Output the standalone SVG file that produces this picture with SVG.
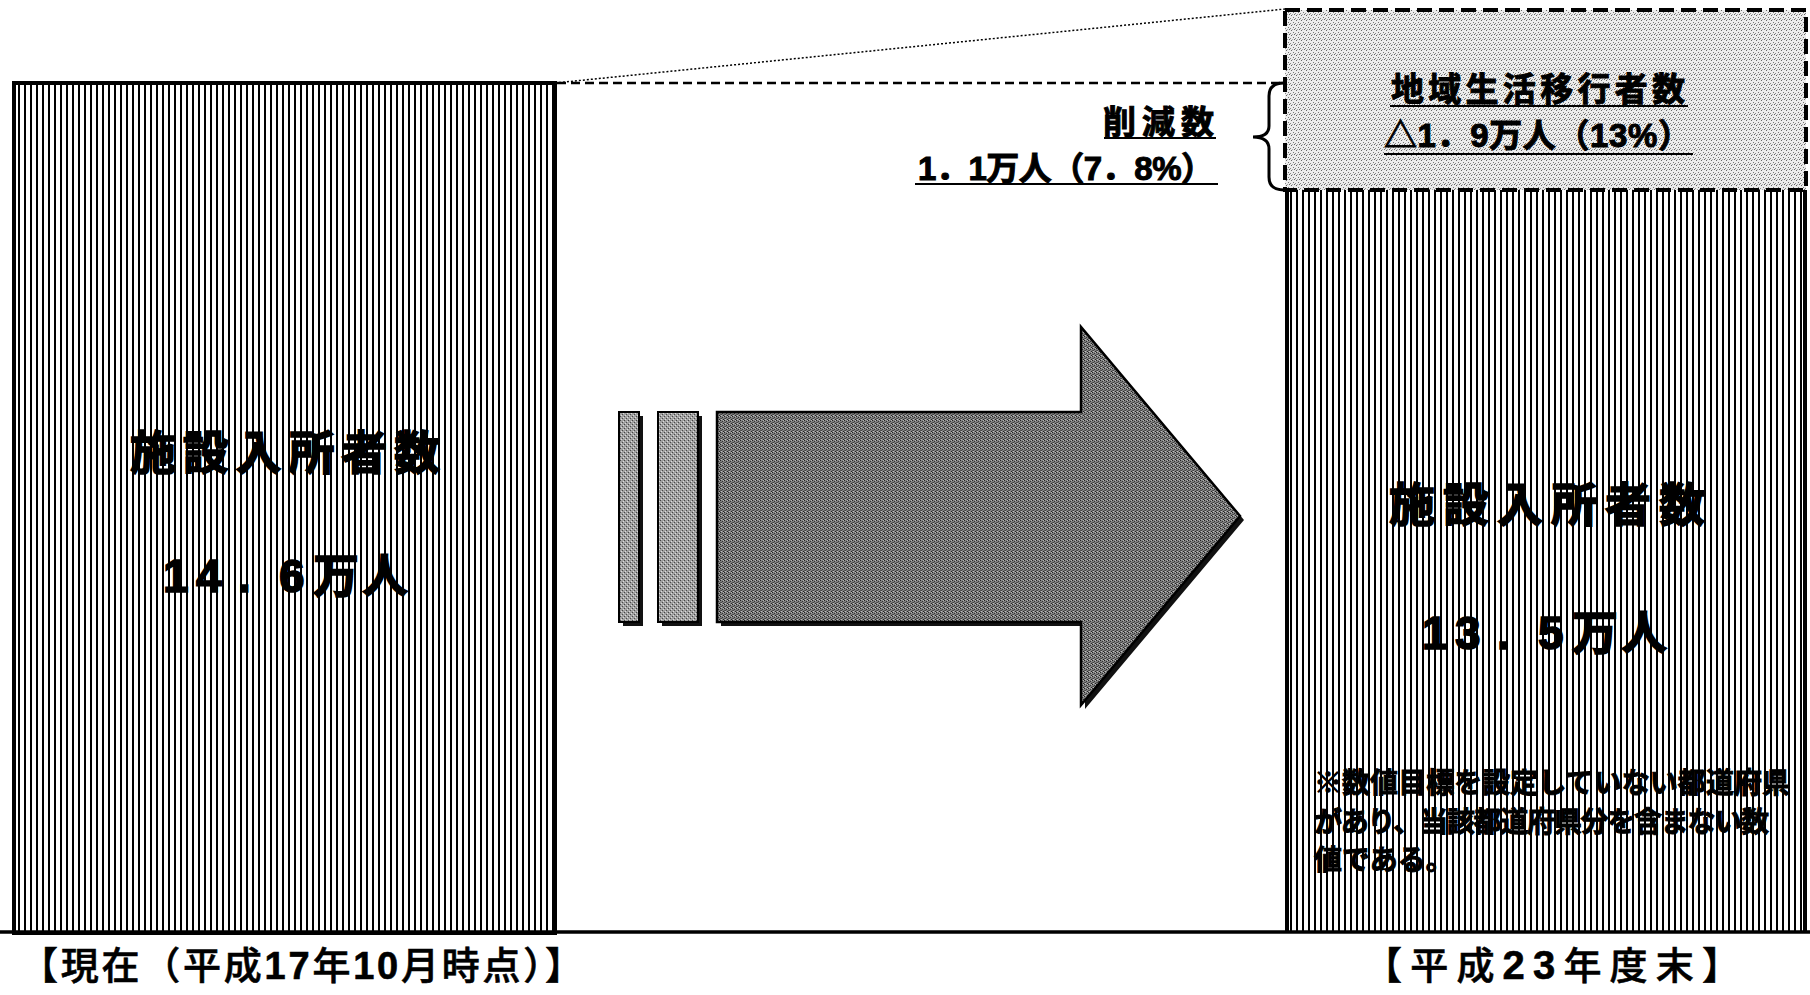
<svg xmlns="http://www.w3.org/2000/svg" width="1810" height="995" viewBox="0 0 1810 995">
<defs>
<pattern id="stripes" patternUnits="userSpaceOnUse" x="0" y="0" width="6" height="10">
<rect width="6" height="10" fill="#ffffff"/>
<rect x="0" y="0" width="2" height="10" fill="#000000"/>
</pattern>
<pattern id="lightdots" patternUnits="userSpaceOnUse" width="5" height="5">
<rect width="5" height="5" fill="#ececec"/>
<rect x="1" y="0" width="1" height="1" fill="#666"/>
<rect x="3" y="2" width="1" height="1" fill="#777"/>
<rect x="0" y="3" width="1" height="1" fill="#888"/>
<rect x="4" y="4" width="1" height="1" fill="#666"/>
<rect x="2" y="4" width="1" height="1" fill="#aaa"/>
</pattern>
<pattern id="darknoise" patternUnits="userSpaceOnUse" width="4" height="4">
<rect width="4" height="4" fill="#808080"/>
<rect x="0" y="0" width="1" height="1" fill="#222"/>
<rect x="2" y="1" width="1" height="1" fill="#333"/>
<rect x="1" y="2" width="1" height="1" fill="#444"/>
<rect x="3" y="3" width="1" height="1" fill="#222"/>
<rect x="3" y="0" width="1" height="1" fill="#b4b4b4"/>
<rect x="1" y="3" width="1" height="1" fill="#bebebe"/>
<rect x="0" y="2" width="1" height="1" fill="#555"/>
</pattern>
<pattern id="midnoise" patternUnits="userSpaceOnUse" width="4" height="4">
<rect width="4" height="4" fill="#a0a0a0"/>
<rect x="0" y="0" width="1" height="1" fill="#444"/>
<rect x="2" y="2" width="1" height="1" fill="#4a4a4a"/>
<rect x="3" y="1" width="1" height="1" fill="#ddd"/>
<rect x="1" y="3" width="1" height="1" fill="#ddd"/>
</pattern>
</defs>
<style>
.jpn{font-family:"Noto Sans CJK JP","Liberation Sans",sans-serif;font-weight:bold;fill:#000;stroke:#000;stroke-width:1}
.big{stroke-width:1.6}
.dig{font-family:"Liberation Sans","Noto Sans CJK JP",sans-serif;font-weight:bold}
.lbl{font-family:"Noto Sans CJK JP","Liberation Sans",sans-serif;font-weight:500;fill:#000;stroke:#000;stroke-width:0.6}
.ul{stroke:#000;stroke-width:2.2}
.edge{fill:none;stroke:#000}
</style>
<rect width="1810" height="995" fill="#ffffff"/>

<g id="connectors">
<line x1="555" y1="83" x2="1285" y2="9" stroke="#000" stroke-width="1.5" stroke-dasharray="2 2"/>
<line x1="557" y1="83" x2="1283" y2="83" stroke="#000" stroke-width="2.5" stroke-dasharray="9 5"/>
<path d="M1284,83 Q1269,83 1269,96 L1269,126 Q1269,137 1253,137 Q1269,137 1269,149 L1269,177 Q1269,190 1284,190" fill="none" stroke="#000" stroke-width="3"/>
</g>

<g id="left-bar">
<rect x="14" y="83" width="541" height="850" fill="url(#stripes)" stroke="#000" stroke-width="4"/>
<text class="jpn big" x="285" y="469" font-size="46" text-anchor="middle" textLength="310">施設入所者数</text>
<text class="jpn big" y="592" font-size="46"><tspan class="dig" x="163">1</tspan><tspan class="dig" x="196">4</tspan><tspan class="dig" x="238">.</tspan><tspan class="dig" x="279">6</tspan><tspan x="313">万</tspan><tspan x="362">人</tspan></text>
</g>

<g id="right-bar">
<rect x="1287" y="190" width="519" height="743" fill="url(#stripes)"/>
<path d="M1287,190 L1287,933 M1805,190 L1805,933" class="edge" stroke-width="4"/>
<text class="jpn big" x="1547" y="521" font-size="46" text-anchor="middle" textLength="316">施設入所者数</text>
<text class="jpn big" y="649" font-size="46"><tspan class="dig" x="1422">1</tspan><tspan class="dig" x="1455">3</tspan><tspan class="dig" x="1497">.</tspan><tspan class="dig" x="1538">5</tspan><tspan x="1572">万</tspan><tspan x="1621">人</tspan></text>
<text class="jpn" x="1314" y="793" font-size="28" textLength="476">※数値目標を設定していない都道府県</text>
<text class="jpn" x="1314" y="832" font-size="28" textLength="455">があり、当該都道府県分を含まない数</text>
<text class="jpn" x="1314" y="870" font-size="28">値である。</text>
</g>

<g id="transition-box">
<rect x="1285" y="10" width="521" height="180" fill="url(#lightdots)" stroke="#000" stroke-width="4" stroke-dasharray="15 7"/>
<text class="jpn" x="1391" y="101" font-size="33" textLength="294">地域生活移行者数</text>
<line class="ul" x1="1390" y1="106" x2="1688" y2="106"/>
<text class="jpn" x="1384" y="147" font-size="33" textLength="307">△<tspan class="dig">1</tspan>．<tspan class="dig">9</tspan>万人（<tspan class="dig">13%</tspan>）</text>
<line class="ul" x1="1384" y1="154" x2="1693" y2="154"/>
</g>

<g id="reduction-label">
<text class="jpn" x="1214" y="134" font-size="33" text-anchor="end" textLength="111">削減数</text>
<line class="ul" x1="1104" y1="138" x2="1216" y2="138"/>
<text class="jpn" x="1214" y="180" font-size="33" text-anchor="end" textLength="296"><tspan class="dig">1</tspan>．<tspan class="dig">1</tspan>万人（<tspan class="dig">7</tspan>．<tspan class="dig">8%</tspan>）</text>
<line class="ul" x1="915" y1="184" x2="1218" y2="184"/>
</g>

<g id="arrow">
<rect x="623" y="416" width="20" height="210" fill="#111"/>
<rect x="662" y="416" width="40" height="210" fill="#111"/>
<polygon points="721,416 1085,416 1085,331 1244,520 1085,709 1085,626 721,626" fill="#111"/>
<rect x="619" y="412" width="20" height="210" fill="url(#midnoise)" stroke="#000" stroke-width="2"/>
<rect x="658" y="412" width="40" height="210" fill="url(#midnoise)" stroke="#000" stroke-width="2"/>
<polygon points="717,412 1081,412 1081,327 1240,516 1081,705 1081,622 717,622" fill="url(#darknoise)" stroke="#000" stroke-width="2.5" stroke-linejoin="miter"/>
</g>

<g id="baseline">
<line x1="0" y1="932" x2="1810" y2="932" stroke="#000" stroke-width="3.5"/>
</g>

<g id="labels">
<text class="lbl" x="20" y="979" font-size="38" textLength="563">【現在（平成<tspan class="dig" font-weight="normal">17</tspan>年<tspan class="dig" font-weight="normal">10</tspan>月時点）】</text>
<text class="lbl" x="1364" y="979" font-size="38" textLength="376">【平成<tspan class="dig" font-weight="normal" font-size="40">23</tspan>年度末】</text>
</g>
</svg>
